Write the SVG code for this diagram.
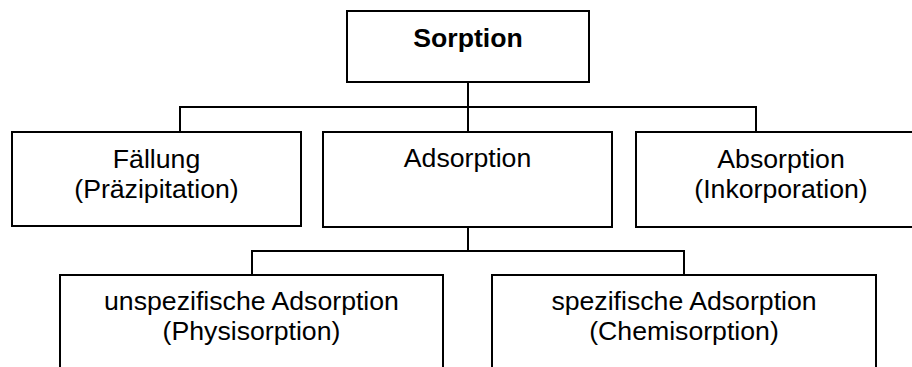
<svg xmlns="http://www.w3.org/2000/svg" width="912" height="367" viewBox="0 0 912 367">
<style>
.box{fill:#fff;stroke:#000;stroke-width:2}
.t{font-family:"Liberation Sans",Arial,sans-serif;font-size:26.67px;fill:#000;text-anchor:middle}
.b{font-weight:bold}
.c{fill:none;stroke:#000;stroke-width:2}
</style>
<rect width="912" height="367" fill="#fff"/>
<g id="connectors">
<path class="c" d="M468,82V107M180,132V107H756V132M468,107V132"/>
<path class="c" d="M468,227V251M252,275V251H684V275"/>
</g>
<g id="sorption">
<rect class="box" x="347" y="11" width="242" height="71"/>
<text class="t b" x="468" y="47">Sorption</text>
</g>
<g id="faellung">
<rect class="box" x="12" y="132" width="289" height="94"/>
<text class="t" x="156.5" y="168">Fällung</text>
<text class="t" x="156.5" y="198">(Präzipitation)</text>
</g>
<g id="adsorption">
<rect class="box" x="323" y="132" width="289" height="95"/>
<text class="t" x="467.5" y="167">Adsorption</text>
</g>
<g id="absorption">
<rect class="box" x="636" y="132" width="290" height="95"/>
<text class="t" x="781" y="168">Absorption</text>
<text class="t" x="781" y="198">(Inkorporation)</text>
</g>
<g id="physisorption">
<rect class="box" x="60" y="275" width="383" height="110"/>
<text class="t" x="251.5" y="310">unspezifische Adsorption</text>
<text class="t" x="251.5" y="340">(Physisorption)</text>
</g>
<g id="chemisorption">
<rect class="box" x="492" y="275" width="384" height="110"/>
<text class="t" x="684" y="310">spezifische Adsorption</text>
<text class="t" x="684" y="340">(Chemisorption)</text>
</g>
</svg>
